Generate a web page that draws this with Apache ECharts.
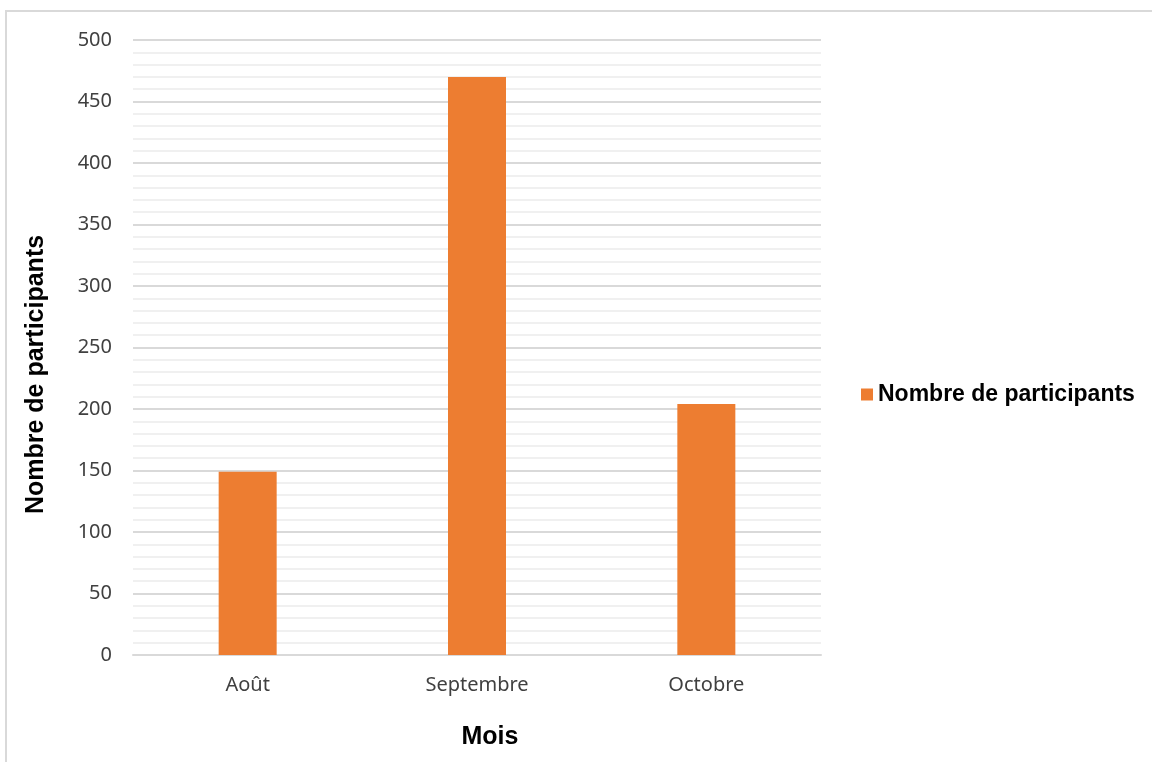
<!DOCTYPE html>
<html>
<head>
<meta charset="utf-8">
<script src="https://cdn.jsdelivr.net/npm/echarts@6/dist/echarts.min.js"></script>
<style>
  html, body { margin: 0; padding: 0; background: #fff; }
  #main { width: 1152px; height: 762px; }
</style>
</head>
<body>
<div id="main"></div>
<script>
  // données
  const mois = ['Août', 'Septembre', 'Octobre'];
  const participants = [149, 470, 204];
  const serieNom = 'Nombre de participants';

  const chart = echarts.init(document.getElementById('main'));
  chart.setOption({
    backgroundColor: '#fff',
    animation: false,
    graphic: [{
      type: 'rect',
      shape: { x: 6, y: 11, width: 1200, height: 800 },
      style: { fill: 'none', stroke: '#d9d9d9', lineWidth: 2 },
      silent: true
    }],
    legend: {
      left: 861,
      top: 383,
      padding: 0,
      itemWidth: 12,
      itemHeight: 12,
      itemGap: 5,
      icon: 'rect',
      textStyle: { fontFamily: 'Liberation Sans', fontWeight: 'bold', fontSize: 23, color: '#000' },
      data: [serieNom]
    },
    grid: { left: 133, right: 331, top: 40, bottom: 107 },
    xAxis: {
      type: 'category',
      data: mois,
      name: 'Mois',
      nameLocation: 'middle',
      nameGap: 70,
      nameTextStyle: { fontFamily: 'Liberation Sans', fontWeight: 'bold', fontSize: 25, color: '#000', padding: [0, 0, 0, 26] },
      axisLine: { lineStyle: { color: '#d9d9d9', width: 2 } },
      axisTick: { show: false },
      axisLabel: { fontFamily: 'Noto Sans', fontSize: 20, color: '#404040', margin: 20 }
    },
    yAxis: {
      type: 'value',
      min: 0,
      max: 500,
      interval: 50,
      name: serieNom,
      nameLocation: 'middle',
      nameGap: 84,
      nameRotate: 90,
      nameTextStyle: { fontFamily: 'Liberation Sans', fontWeight: 'bold', fontSize: 25, color: '#000', padding: [0, 54, 0, 0] },
      axisLine: { show: false },
      axisTick: { show: false },
      axisLabel: { fontFamily: 'Noto Sans', fontSize: 20, color: '#404040', margin: 21 },
      splitLine: { lineStyle: { color: '#d9d9d9', width: 2 } },
      minorTick: { show: false, splitNumber: 5 },
      minorSplitLine: { show: true, lineStyle: { color: '#f0f0f0', width: 2 } }
    },
    series: [{
      name: serieNom,
      type: 'bar',
      data: participants,
      barWidth: 58,
      itemStyle: { color: '#ed7d31' }
    }]
  });
</script>
</body>
</html>
